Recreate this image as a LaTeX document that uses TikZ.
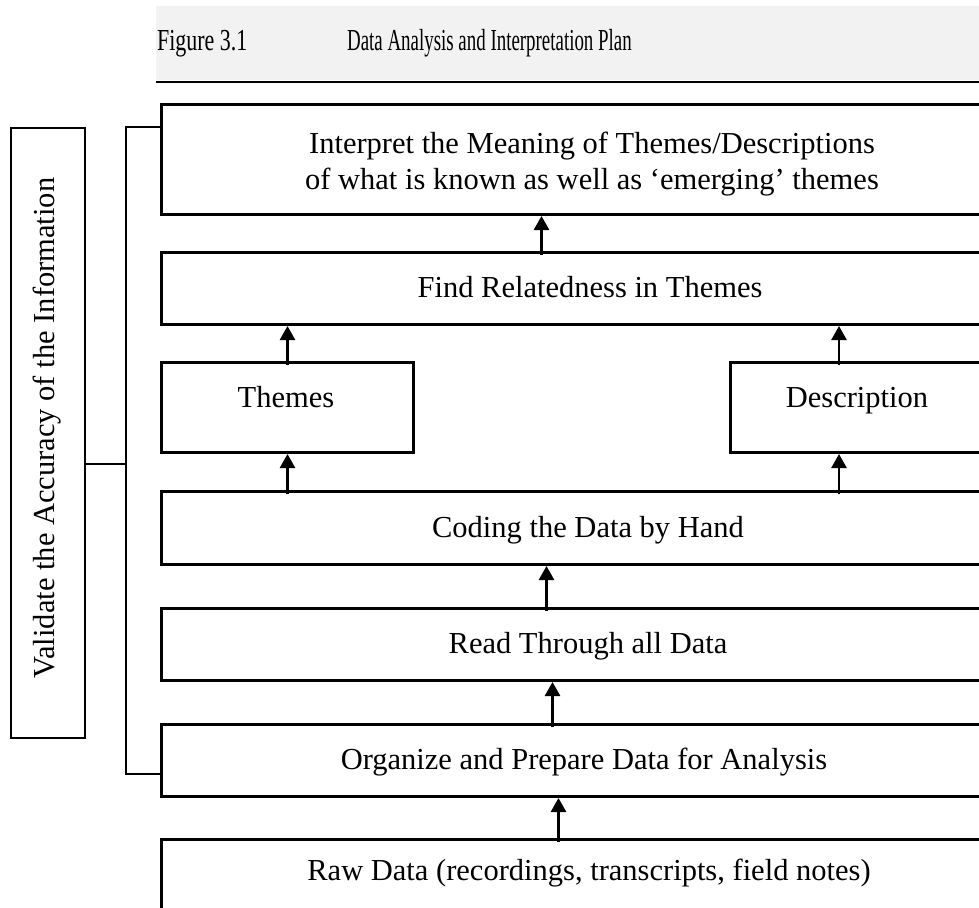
\documentclass[tikz,border=0pt]{standalone}
\usepackage{fontspec}
\setmainfont{Liberation Serif}
\usetikzlibrary{arrows.meta}
\begin{document}
\begin{tikzpicture}[x=1pt,y=-1pt,
  box/.style={draw=black,line width=3pt,rectangle,inner sep=0pt,anchor=north west},
  lbl/.style={font=\fontsize{30.5}{35}\selectfont,anchor=base,inner sep=0pt},
  hdr/.style={font=\fontsize{30.5}{35}\selectfont,anchor=base west,inner sep=0pt},
  arr/.style={-{Triangle[width=15pt,length=14pt]},line width=2.6pt},
  brk/.style={line width=2.6pt}]
\clip (0,0) rectangle (979,907);
\fill[white] (0,0) rectangle (979,907);
% header
\fill[black!5] (156,6) rectangle (979,80);
\node[hdr,xscale=0.72] (figno) at (157,51) {Figure 3.1};
\node[hdr,xscale=0.62] (figtitle) at (347,51) {Data Analysis and Interpretation Plan};
\draw[line width=2.8pt] (156,82) -- (979,82);
% boxes
\node[box,minimum width=870pt,minimum height=110pt] (b1) at (160,103) {};
\node[lbl] (b1a) at (592,153) {Interpret the Meaning of Themes/Descriptions};
\node[lbl] (b1b) at (592,189) {of what is known as well as ‘emerging’ themes};
\node[box,minimum width=870pt,minimum height=72pt] (b2) at (160,251) {};
\node[lbl] (b2t) at (590,297) {Find Relatedness in Themes};
\node[box,minimum width=252pt,minimum height=90pt] (th) at (160,361) {};
\node[lbl] (tht) at (286,407) {Themes};
\node[box,minimum width=256pt,minimum height=90pt] (de) at (729,361) {};
\node[lbl] (det) at (857,407) {Description};
\node[box,minimum width=870pt,minimum height=73pt] (co) at (160,490) {};
\node[lbl] (cot) at (588,537) {Coding the Data by Hand};
\node[box,minimum width=870pt,minimum height=72pt] (rd) at (160,607) {};
\node[lbl] (rdt) at (588,653) {Read Through all Data};
\node[box,minimum width=870pt,minimum height=72pt] (or) at (160,723) {};
\node[lbl] (ort) at (584,769) {Organize and Prepare Data for Analysis};
\node[box,minimum width=870pt,minimum height=100pt] (rw) at (160,838) {};
\node[lbl] (rwt) at (589,880) {Raw Data (recordings, transcripts, field notes)};
% validate box
\node[draw=black,line width=2pt,rectangle,inner sep=0pt,minimum width=74pt,minimum height=610pt,anchor=north west] (va) at (10,127) {};
\node[font=\fontsize{30.5}{35}\selectfont,rotate=90,inner sep=0pt] (vat) at (47,428) {Validate the Accuracy of the Information};
% bracket
\coordinate (bt) at (126,127);
\coordinate (bb) at (126,774);
\coordinate (bm) at (126,464);
\draw[brk] (b1.west |- bt) -- (bt) -- (bb) -- (or.west |- bb);
\draw[brk] (va.east |- bm) -- (bm);
% arrows
\draw[arr] ([xshift=540pt-595pt,yshift=-4pt]b2.north) -- ([xshift=540pt-595pt]b1.south);
\draw[arr] ([yshift=-4pt]th.north) -- (th.north |- b2.south);
\draw[arr] ([yshift=-4pt]de.north -| 839,0) -- (839,0 |- b2.south);
\draw[arr] ([yshift=-4pt]th.north |- co.north) -- (th.south);
\draw[arr] ([yshift=-4pt]co.north -| 839,0) -- (839,0 |- de.south);
\draw[arr] ([xshift=545pt-595pt,yshift=-4pt]rd.north) -- ([xshift=545pt-595pt]co.south);
\draw[arr] ([xshift=551pt-595pt,yshift=-4pt]or.north) -- ([xshift=551pt-595pt]rd.south);
\draw[arr] ([xshift=557pt-595pt,yshift=-4pt]rw.north) -- ([xshift=557pt-595pt]or.south);
\end{tikzpicture}
\end{document}
